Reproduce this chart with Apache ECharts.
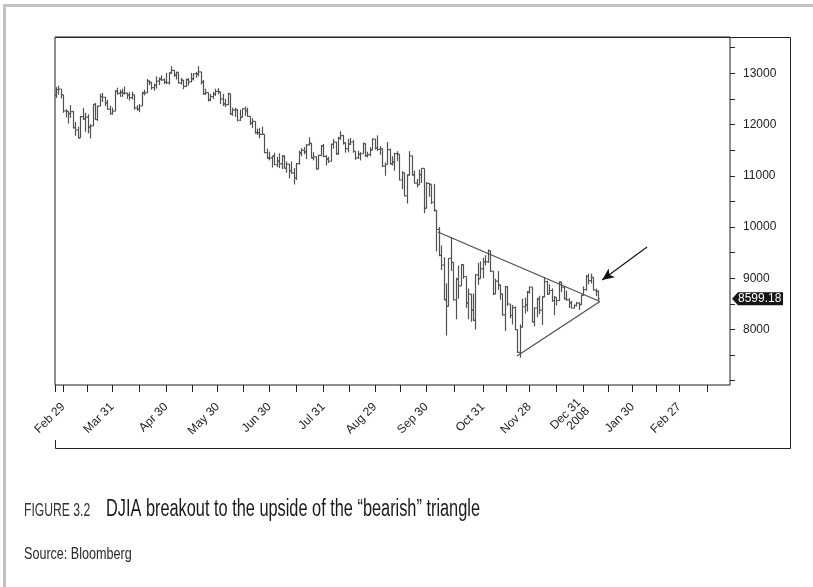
<!DOCTYPE html>
<html>
<head>
<meta charset="utf-8">
<title>DJIA breakout</title>
<script src="https://cdn.jsdelivr.net/npm/echarts@6/dist/echarts.min.js"></script>
<style>
	html, body { margin: 0; padding: 0; background: #fff; }
	#chart { width: 813px; height: 587px; }
</style>
</head>
<body>
<div id="chart"></div>
<script>
// daily bars, [open, high, low, close], one array per month (trading days only)
let feb08 = [
	[12570, 12730, 12520, 12684], [12684, 12760, 12580, 12694], [12694, 12694, 12510, 12582], [12582, 12582, 12230, 12266]
];
let mar08 = [
	[12266, 12300, 12140, 12258], [12258, 12258, 12020, 12213], [12213, 12380, 12130, 12254], [12254, 12270, 11920, 11941],
	[11941, 12050, 11780, 11894], [11894, 11960, 11730, 11741], [11741, 12170, 11740, 12156], [12156, 12320, 12090, 12111],
	[12111, 12230, 11860, 12146], [12146, 12200, 11830, 11951], [11951, 12010, 11730, 11973], [11973, 12400, 11970, 12392],
	[12392, 12420, 12090, 12099], [12099, 12370, 12070, 12361], [12361, 12600, 12360, 12548], [12548, 12620, 12440, 12533],
	[12533, 12540, 12360, 12422], [12422, 12480, 12290, 12302], [12302, 12370, 12190, 12216], [12216, 12330, 12190, 12263]
];
let apr08 = [
	[12263, 12670, 12260, 12654], [12654, 12720, 12580, 12608], [12608, 12680, 12540, 12627], [12627, 12700, 12540, 12610],
	[12610, 12740, 12590, 12612], [12612, 12620, 12500, 12577], [12577, 12630, 12470, 12527], [12527, 12640, 12490, 12582],
	[12582, 12582, 12290, 12325], [12325, 12380, 12270, 12302], [12302, 12400, 12240, 12362], [12362, 12640, 12360, 12619],
	[12619, 12680, 12570, 12620], [12620, 12890, 12620, 12850], [12850, 12860, 12770, 12826], [12826, 12830, 12680, 12721],
	[12721, 12800, 12660, 12763], [12763, 12940, 12700, 12849], [12849, 12920, 12770, 12891], [12891, 12960, 12850, 12871],
	[12871, 12900, 12790, 12831], [12831, 13010, 12790, 12820]
];
let may08 = [
	[12820, 13020, 12780, 13010], [13010, 13140, 12990, 13058], [13058, 13060, 12930, 12969], [12969, 13030, 12880, 13020],
	[13020, 13020, 12800, 12814], [12814, 12910, 12780, 12866], [12866, 12870, 12690, 12745], [12745, 12900, 12730, 12876],
	[12876, 12910, 12760, 12832], [12832, 13010, 12830, 12898], [12898, 13000, 12860, 12992], [12992, 13030, 12910, 12986],
	[12986, 13140, 12940, 13028], [13028, 13028, 12780, 12828], [12828, 12870, 12580, 12601], [12601, 12700, 12580, 12625],
	[12625, 12630, 12450, 12480], [12480, 12600, 12460, 12548], [12548, 12640, 12500, 12594], [12594, 12700, 12560, 12646],
	[12646, 12710, 12590, 12638]
];
let jun08 = [
	[12638, 12640, 12400, 12503], [12503, 12600, 12360, 12402], [12402, 12500, 12340, 12390], [12390, 12620, 12380, 12604],
	[12604, 12604, 12190, 12209], [12209, 12330, 12170, 12280], [12280, 12330, 12150, 12289], [12289, 12300, 12060, 12084],
	[12084, 12290, 12070, 12141], [12141, 12320, 12140, 12307], [12307, 12350, 12170, 12269], [12269, 12330, 12150, 12160],
	[12160, 12160, 11990, 12029], [12029, 12120, 11930, 12063], [12063, 12063, 11820, 11843], [11843, 11920, 11800, 11842],
	[11842, 11930, 11730, 11808], [11808, 11960, 11800, 11811], [11811, 11811, 11440, 11453], [11453, 11530, 11330, 11346],
	[11346, 11470, 11300, 11350]
];
let jul08 = [
	[11350, 11390, 11160, 11382], [11382, 11450, 11210, 11215], [11215, 11370, 11170, 11288], [11288, 11440, 11150, 11231],
	[11231, 11400, 11130, 11384], [11384, 11400, 11140, 11147], [11147, 11280, 11060, 11229], [11229, 11230, 10950, 11100],
	[11100, 11280, 11040, 11055], [11055, 11150, 10830, 10962], [10962, 11250, 10920, 11239], [11239, 11490, 11220, 11446],
	[11446, 11540, 11380, 11496], [11496, 11560, 11420, 11467], [11467, 11620, 11330, 11602], [11602, 11750, 11590, 11632],
	[11632, 11640, 11340, 11349], [11349, 11460, 11300, 11370], [11370, 11370, 11120, 11132], [11132, 11410, 11130, 11398],
	[11398, 11600, 11380, 11584], [11584, 11620, 11360, 11378]
];
let aug08 = [
	[11378, 11400, 11200, 11326], [11326, 11370, 11250, 11284], [11284, 11630, 11280, 11615], [11615, 11720, 11530, 11656],
	[11656, 11660, 11410, 11432], [11432, 11760, 11410, 11734], [11734, 11870, 11700, 11782], [11782, 11800, 11610, 11642],
	[11642, 11650, 11450, 11532], [11532, 11720, 11460, 11616], [11616, 11740, 11600, 11659], [11659, 11700, 11450, 11479],
	[11479, 11480, 11310, 11348], [11348, 11490, 11330, 11418], [11418, 11460, 11300, 11430], [11430, 11650, 11430, 11628],
	[11628, 11630, 11370, 11387], [11387, 11470, 11360, 11413], [11413, 11560, 11380, 11502], [11502, 11730, 11500, 11715],
	[11715, 11720, 11510, 11543]
];
let sep08 = [
	[11543, 11790, 11480, 11516], [11516, 11580, 11410, 11532], [11532, 11532, 11170, 11188], [11188, 11260, 11000, 11220],
	[11220, 11660, 11220, 11511], [11511, 11530, 11220, 11231], [11231, 11380, 11200, 11268], [11268, 11450, 11100, 11434],
	[11434, 11480, 11290, 11421], [11421, 11421, 10910, 10918], [10918, 11090, 10740, 11059], [11059, 11060, 10600, 10609],
	[10609, 11030, 10460, 11019], [11019, 11480, 11000, 11388], [11388, 11390, 11000, 11016], [11016, 11100, 10850, 10855],
	[10855, 10940, 10770, 10825], [10825, 11120, 10820, 11023], [11023, 11150, 10860, 11143], [11143, 11143, 10270, 10365],
	[10365, 10880, 10360, 10851]
];
let oct08 = [
	[10851, 10860, 10590, 10831], [10831, 10831, 10450, 10483], [10483, 10844, 10300, 10325], [10325, 10330, 9525, 9955],
	[9955, 10000, 9430, 9447], [9447, 9640, 9160, 9258], [9258, 9410, 8570, 8579], [8579, 8900, 7882, 8451],
	[8451, 9390, 8450, 9388], [9388, 9800, 9140, 9311], [9311, 9311, 8570, 8578], [8578, 9010, 8200, 8979],
	[8979, 9250, 8600, 8852], [8852, 9280, 8850, 9265], [9265, 9270, 8990, 9034], [9034, 9034, 8420, 8519],
	[8519, 8800, 8200, 8691], [8691, 8691, 8150, 8379], [8379, 8700, 8160, 8176], [8176, 9080, 8000, 9065],
	[9065, 9300, 8870, 8991], [8991, 9330, 8990, 9181], [9181, 9400, 9000, 9325]
];
let nov08 = [
	[9325, 9450, 9250, 9319], [9319, 9560, 9300, 9540], [9540, 9540, 9120, 9139], [9139, 9140, 8670, 8695],
	[8695, 8990, 8690, 8943], [8943, 9140, 8770, 8870], [8870, 8870, 8580, 8694], [8694, 8694, 8270, 8283],
	[8283, 8850, 7970, 8835], [8835, 8840, 8460, 8497], [8497, 8500, 8220, 8273], [8273, 8480, 8100, 8425],
	[8425, 8450, 7990, 7997], [7997, 8000, 7540, 7552], [7552, 8100, 7449, 8046], [8046, 8600, 8040, 8443],
	[8443, 8620, 8310, 8479], [8479, 8750, 8350, 8727], [8727, 8840, 8700, 8829]
];
let dec08 = [
	[8829, 8829, 8140, 8149], [8149, 8430, 8060, 8419], [8419, 8620, 8240, 8592], [8592, 8660, 8300, 8376],
	[8376, 8650, 8090, 8635], [8635, 9020, 8630, 8934], [8934, 8950, 8680, 8691], [8691, 8880, 8690, 8761],
	[8761, 8800, 8540, 8565], [8565, 8650, 8280, 8629], [8629, 8630, 8470, 8565], [8565, 8940, 8560, 8924],
	[8924, 8930, 8730, 8824], [8824, 8850, 8580, 8604], [8604, 8760, 8560, 8579], [8579, 8610, 8420, 8519],
	[8519, 8560, 8410, 8419], [8419, 8490, 8410, 8468], [8468, 8540, 8450, 8515], [8515, 8530, 8380, 8483],
	[8483, 8680, 8480, 8668], [8668, 8840, 8660, 8776]
];
let jan09 = [
	[8776, 9065, 8760, 9034], [9034, 9090, 8880, 8952], [8952, 9090, 8900, 9015], [9015, 9015, 8760, 8769],
	[8769, 8800, 8650, 8742], [8742, 8760, 8570, 8599.18]
];
let lastClose = 8599.18;

// x axis is counted in trading days from Feb 26 2008
let monthTicks = [3, 23, 45, 66, 87, 109, 130, 151, 174, 193, 215, 235, 254];
let monthLabels = ['Feb 29', 'Mar 31', 'Apr 30', 'May 30', 'Jun 30', 'Jul 31', 'Aug 29', 'Sep 30', 'Oct 31', 'Nov 28', 'Dec 31\n2008', 'Jan 30', 'Feb 27'];
let midTicks = [-0.3, 13, 34, 55.5, 76.5, 98, 119.5, 140.5, 162.5, 183.5, 204, 225, 244.5, 265.5];
let yTicks = [7000, 7500, 8000, 8500, 9000, 9500, 10000, 10500, 11000, 11500, 12000, 12500, 13000, 13500];
let yLabels = [8000, 9000, 10000, 11000, 12000, 13000];

// triangle and arrow, in [trading day, index value]
let upperLine = [[155.7, 9903], [221.7, 8546]];
let lowerLine = [[187.9, 7482], [221.7, 8546]];
let arrowFrom = [240.9, 9610];
let arrowTo = [222.6, 8966];

let rows = [].concat(feb08, mar08, apr08, may08, jun08, jul08, aug08, sep08, oct08, nov08, dec08, jan09);
let ohlc = rows.map((r, i) => [i, r[0], r[1], r[2], r[3]]);

let font = 'Liberation Sans, Arial, sans-serif';
let myChart = echarts.init(document.getElementById('chart'), null, { renderer: 'canvas' });

function renderBar(params, api) {
	let i = api.value(0);
	let pO = api.coord([i, api.value(1)]);
	let pH = api.coord([i, api.value(2)]);
	let pL = api.coord([i, api.value(3)]);
	let pC = api.coord([i, api.value(4)]);
	let x = Math.round(pH[0]) + 0.5;
	let style = { stroke: '#505050', lineWidth: 1.2 };
	return {
		type: 'group',
		children: [
			{ type: 'line', shape: { x1: x, y1: pH[1], x2: x, y2: pL[1] }, style: style },
			{ type: 'line', shape: { x1: x - 1.4, y1: pO[1], x2: x, y2: pO[1] }, style: style },
			{ type: 'line', shape: { x1: x, y1: pC[1], x2: x + 1.4, y2: pC[1] }, style: style }
		]
	};
}

let option = {
	animation: false,
	backgroundColor: '#fff',
	grid: {
		left: 55, right: 83, top: 37, bottom: 202,
		show: true, borderColor: '#1e1e1e', borderWidth: 1, backgroundColor: 'transparent'
	},
	xAxis: {
		type: 'value',
		min: -0.3,
		max: 274.7,
		axisLine: { show: false, onZero: false },
		splitLine: { show: false },
		axisTick: {
			show: true, length: 7, inside: false,
			lineStyle: { color: '#222' },
			customValues: monthTicks.concat(midTicks)
		},
		axisLabel: {
			customValues: monthTicks,
			rotate: 45,
			margin: 20,
			color: '#222',
			fontFamily: font,
			fontSize: 12,
			lineHeight: 12,
			formatter: function (v) {
				let k = monthTicks.indexOf(v);
				return k >= 0 ? monthLabels[k] : '';
			}
		}
	},
	yAxis: {
		type: 'value',
		position: 'right',
		min: 6916,
		max: 13709,
		axisLine: { show: false, onZero: false },
		splitLine: { show: false },
		axisTick: {
			show: true, length: 5,
			lineStyle: { color: '#222' },
			customValues: yTicks
		},
		axisLabel: {
			customValues: yLabels,
			margin: 13,
			color: '#222',
			fontFamily: font,
			fontSize: 12,
			formatter: function (v) { return String(v); }
		}
	},
	series: [
		{
			name: 'DJIA',
			type: 'custom',
			renderItem: renderBar,
			encode: { x: 0, y: [1, 2, 3, 4] },
			clip: true,
			data: ohlc
		},
		{
			type: 'line',
			data: upperLine,
			symbol: 'none',
			lineStyle: { color: '#4a4a4a', width: 1.1 },
			silent: true
		},
		{
			type: 'line',
			data: lowerLine,
			symbol: 'none',
			lineStyle: { color: '#4a4a4a', width: 1.1 },
			silent: true,
			markLine: {
				silent: true,
				symbol: ['none', 'arrow'],
				symbolSize: [8, 12],
				lineStyle: { color: '#111', width: 1.1, type: 'solid' },
				label: { show: false },
				data: [[{ coord: arrowFrom }, { coord: arrowTo }]]
			}
		}
	],
	graphic: [
		{ id: 'edgeL', type: 'line', shape: { x1: 4.5, y1: 4, x2: 4.5, y2: 587 }, style: { stroke: '#c2c2c2', lineWidth: 3 } },
		{ id: 'edgeT', type: 'line', shape: { x1: 3, y1: 5.5, x2: 813, y2: 5.5 }, style: { stroke: '#c2c2c2', lineWidth: 3 } },
		{
			id: 'box', type: 'polyline',
			shape: { points: [[55.5, 37.5], [790.5, 37.5], [790.5, 448.5], [55.5, 448.5], [55.5, 440]] },
			style: { stroke: '#222', lineWidth: 1, fill: null }
		},
		{
			id: 'fig', type: 'text', x: 24, y: 511, scaleX: 0.64,
			style: { text: 'FIGURE 3.2', font: '19px ' + font, fill: '#333', verticalAlign: 'middle' }
		},
		{
			id: 'title', type: 'text', x: 106, y: 510, scaleX: 0.71,
			style: { text: 'DJIA breakout to the upside of the \u201cbearish\u201d triangle', font: '23px ' + font, fill: '#1a1a1a', verticalAlign: 'middle' }
		},
		{
			id: 'source', type: 'text', x: 24, y: 554, scaleX: 0.74,
			style: { text: 'Source: Bloomberg', font: '17px ' + font, fill: '#2a2a2a', verticalAlign: 'middle' }
		}
	]
};
myChart.setOption(option);

// last price flag on the right axis
let py = myChart.convertToPixel({ yAxisIndex: 0 }, lastClose);
myChart.setOption({
	graphic: [
		{
			id: 'flag', type: 'polygon',
			shape: { points: [[732, py], [738, py - 6.5], [783, py - 6.5], [783, py + 6.5], [738, py + 6.5]] },
			style: { fill: '#151515' }
		},
		{
			id: 'flagText', type: 'text', x: 738, y: py,
			style: { text: String(lastClose), font: '12px ' + font, fill: '#fff', verticalAlign: 'middle' }
		}
	]
});
window.onresize = myChart.resize;
</script>
</body>
</html>
